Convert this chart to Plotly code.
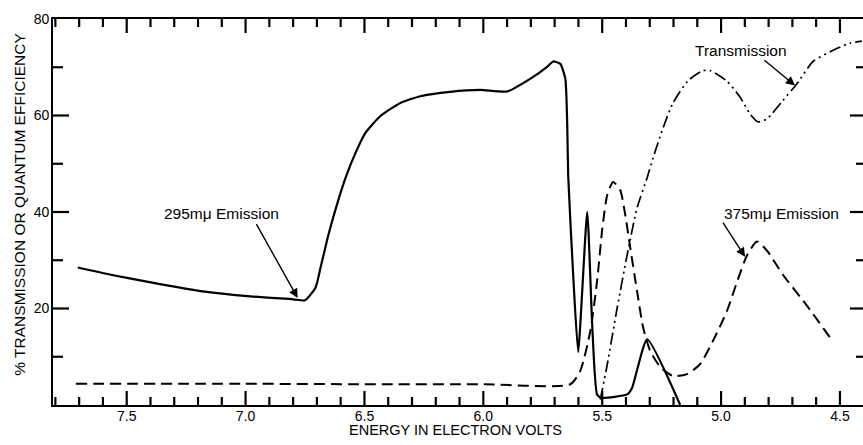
import plotly.graph_objects as go

# 295 mu emission quantum efficiency (solid)
em295_ev = [7.706, 7.567, 7.399, 7.189, 6.979, 6.80, 6.75, 6.706, 6.685, 6.655, 6.62, 6.58,
            6.538, 6.496, 6.433, 6.349, 6.265, 6.139, 6.013, 5.899, 5.80, 5.729, 5.706,
            5.676, 5.655, 5.647, 5.643, 5.622, 5.601, 5.563, 5.542, 5.521, 5.50, 5.395,
            5.374, 5.311, 5.172]
em295_val = [28.5, 27.0, 25.4, 23.6, 22.5, 21.9, 21.7, 24.3, 28.4, 34.6, 40.8, 47.0,
             52.2, 56.4, 59.9, 62.6, 64.0, 64.9, 65.3, 65.0, 67.7, 70.2, 71.2,
             70.7, 67.6, 58.0, 47.5, 26.9, 11.0, 40.0, 16.6, 2.1, 1.5, 2.2,
             3.6, 13.6, 0.0]

# 375 mu emission quantum efficiency (dashed)
em375_ev = [7.714, 7.0, 6.5, 6.0, 5.634, 5.592, 5.55, 5.521, 5.50, 5.479, 5.454, 5.424,
            5.403, 5.382, 5.353, 5.328, 5.298, 5.256, 5.202, 5.143, 5.088, 5.034, 4.975,
            4.933, 4.891, 4.849, 4.807, 4.74, 4.639, 4.542]
em375_val = [4.4, 4.4, 4.3, 4.3, 4.3, 7.1, 15.3, 25.9, 36.3, 43.5, 46.2, 44.5,
             39.4, 32.6, 23.5, 16.1, 11.2, 7.9, 6.0, 6.4, 8.5, 13.3, 19.5,
             25.5, 31.0, 33.9, 32.0, 27.0, 20.6, 14.0]

# Transmission (dash-dot-dot)
trans_ev = [5.508, 5.479, 5.437, 5.395, 5.353, 5.311, 5.286, 5.244, 5.202, 5.139, 5.076,
            5.046, 4.975, 4.92, 4.878, 4.845, 4.807, 4.74, 4.681, 4.613, 4.529, 4.458, 4.408]
trans_val = [1.1, 8.3, 20.1, 31.1, 40.9, 47.1, 51.2, 57.4, 62.6, 67.2, 69.3,
             69.3, 67.1, 63.8, 60.3, 58.7, 59.3, 63.1, 66.6, 71.2, 73.5, 75.0, 75.4]

x_range = [7.81, 4.403]
y_range = [0, 80]
x_major = [7.5, 7.0, 6.5, 6.0, 5.5, 5.0, 4.5]
x_labels = ["7.5", "7.0", "6.5", "6.0", "5.5", "5.0", "4.5"]
y_major = [20, 40, 60, 80]
y_minor = [10, 30, 50, 70]

FONT = "Liberation Sans"
INK = "#000000"

W, H = 863, 445
M = dict(l=53, r=0, t=19, b=40)
plot_w = W - M["l"] - M["r"]
plot_h = H - M["t"] - M["b"]
ev_per_px = (x_range[0] - x_range[1]) / plot_w
val_per_px = (y_range[1] - y_range[0]) / plot_h

fig = go.Figure()
fig.add_trace(go.Scatter(x=em295_ev, y=em295_val, mode="lines",
                         line=dict(color=INK, width=2.2, shape="spline", smoothing=0.5)))
fig.add_trace(go.Scatter(x=em375_ev, y=em375_val, mode="lines",
                         line=dict(color=INK, width=2, dash="11px,6px", shape="spline", smoothing=0.6)))
fig.add_trace(go.Scatter(x=trans_ev, y=trans_val, mode="lines",
                         line=dict(color=INK, width=1.7, dash="12px,4px,2px,4px,2px,4px",
                                   shape="spline", smoothing=0.6)))

# inward tick marks on all four sides, lengths given in pixels
x_minor = [round(7.8 - 0.1 * i, 1) for i in range(34)]
x_minor = [v for v in x_minor if all(abs(v - m) > 1e-6 for m in x_major) and v >= 4.41]
tx, ty = [], []
for vals, length in ((x_major, 14), (x_minor, 8)):
    d = length * val_per_px
    for v in vals:
        tx += [v, v, None, v, v, None]
        ty += [y_range[0], y_range[0] + d, None, y_range[1], y_range[1] - d, None]
for vals, left_len, right_len in ((y_major[:-1], 16, 13), (y_minor, 10, 7)):
    for v in vals:
        tx += [x_range[0], x_range[0] - left_len * ev_per_px, None,
               x_range[1], x_range[1] + right_len * ev_per_px, None]
        ty += [v, v, None, v, v, None]
fig.add_trace(go.Scatter(x=tx, y=ty, mode="lines", hoverinfo="skip", connectgaps=False,
                         line=dict(color=INK, width=2.2)))

axis_font = dict(family=FONT, size=14, color=INK)
fig.update_layout(
    width=W, height=H, margin=M,
    paper_bgcolor="white", plot_bgcolor="white",
    showlegend=False,
    xaxis=dict(range=x_range, tickmode="array", tickvals=x_major, ticktext=x_labels, ticks="",
               showline=True, linecolor=INK, linewidth=1.8, mirror=True,
               showgrid=False, zeroline=False, tickfont=axis_font, ticklabelstandoff=-3),
    yaxis=dict(range=y_range, tickmode="array", tickvals=y_major, ticks="",
               showline=True, linecolor=INK, linewidth=1.8,
               showgrid=False, zeroline=False, tickfont=axis_font, ticklabelstandoff=-1),
)

label_font = dict(family=FONT, size=15.5, color=INK)
annotations = [
    # curve labels
    dict(x=7.101, y=39.6, text="295mμ Emission"),
    dict(x=4.916, y=73.5, text="Transmission"),
    dict(x=4.744, y=39.7, text="375mμ Emission"),
]
for a in annotations:
    fig.add_annotation(xref="x", yref="y", showarrow=False, font=label_font,
                       xanchor="center", yanchor="middle", **a)

# pointer arrows: (tail) -> (head)
arrows = [
    ((6.958, 37.8), (6.781, 22.2)),
    ((4.824, 71.7), (4.689, 66.2)),
    ((4.996, 38.1), (4.899, 30.7)),
]
for (ax_, ay_), (hx, hy) in arrows:
    fig.add_annotation(x=hx, y=hy, ax=ax_, ay=ay_, xref="x", yref="y", axref="x", ayref="y",
                       text="", showarrow=True, arrowhead=2, arrowsize=1.3, arrowwidth=1.4,
                       arrowcolor=INK)

# axis titles
fig.add_annotation(xref="paper", yref="paper", x=0.4975, y=-0.066, showarrow=False,
                   text="ENERGY IN ELECTRON VOLTS", font=dict(family=FONT, size=14.5, color=INK),
                   xanchor="center", yanchor="middle")
fig.add_annotation(xref="paper", yref="paper", x=-0.0407, y=0.519, showarrow=False,
                   text="% TRANSMISSION OR QUANTUM EFFICIENCY", textangle=-90,
                   font=dict(family=FONT, size=15.5, color=INK),
                   xanchor="center", yanchor="middle")

fig.write_html("out.html")
